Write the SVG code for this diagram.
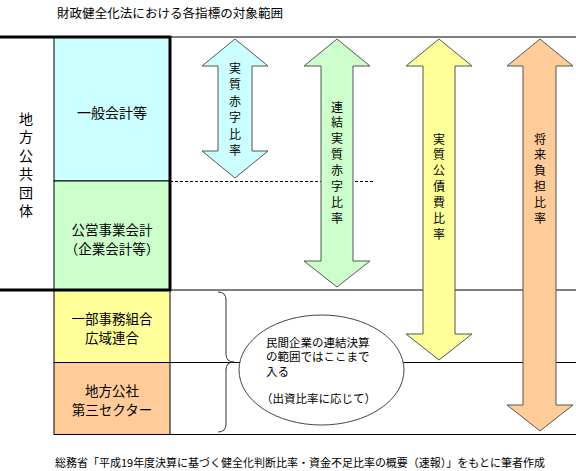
<svg xmlns="http://www.w3.org/2000/svg" width="576" height="471" viewBox="0 0 576 471">
<style>
text{font-family:"Noto Sans CJK JP","Noto Sans CJK SC",sans-serif;fill:#000;dominant-baseline:central}
.box{stroke:#000;stroke-width:1}
.arrow{stroke:#555;stroke-width:1}
.thin{stroke:#000;stroke-width:1;fill:none}
.thick{stroke:#000;stroke-width:3;fill:none}
.v12{font-size:12px;text-anchor:middle}
.b14{font-size:14px;text-anchor:middle}
.b13{font-size:13.5px;text-anchor:middle}
.e12{font-size:11.5px}
</style>
<rect width="576" height="471" fill="#fff"/>
<text x="57" y="12" font-size="12.5" textLength="226" lengthAdjust="spacingAndGlyphs">財政健全化法における各指標の対象範囲</text>

<g id="lines">
<line class="thin" x1="170" y1="37" x2="576" y2="37"/>
<line class="thin" x1="170" y1="290" x2="576" y2="290"/>
<line class="thin" x1="54" y1="362.5" x2="576" y2="362.5"/>
<line class="thin" x1="54" y1="434.5" x2="576" y2="434.5"/>
<line x1="170" y1="181.5" x2="373" y2="181.5" stroke="#000" stroke-width="1" stroke-dasharray="3,2"/>
</g>

<g id="node-general">
<rect class="box" x="54" y="37" width="116" height="144" fill="#ccffff"/>
<text class="b14" x="112" y="112">一般会計等</text>
</g>
<g id="node-public">
<rect class="box" x="54" y="181" width="116" height="109" fill="#ccffcc"/>
<text class="b13" x="112" y="228.5">公営事業会計</text>
<text class="b13" x="112" y="247.5">（企業会計等）</text>
</g>
<g id="node-union">
<rect class="box" x="54" y="290" width="116" height="72.5" fill="#ffff99"/>
<text class="b13" x="112" y="317.5">一部事務組合</text>
<text class="b13" x="112" y="336.5">広域連合</text>
</g>
<g id="node-corp">
<rect class="box" x="54" y="362.5" width="116" height="72" fill="#ffcc99"/>
<text class="b13" x="112" y="389.5">地方公社</text>
<text class="b13" x="112" y="408.5">第三セクター</text>
</g>

<g id="frame">
<line class="thick" x1="0" y1="37" x2="171" y2="37"/>
<line class="thick" x1="0" y1="290" x2="171" y2="290"/>
<line class="thick" x1="170" y1="36" x2="170" y2="291"/>
</g>

<g id="label-local">
<text class="b14" x="26" y="118">地</text>
<text class="b14" x="26" y="136.4">方</text>
<text class="b14" x="26" y="154.8">公</text>
<text class="b14" x="26" y="173.2">共</text>
<text class="b14" x="26" y="191.6">団</text>
<text class="b14" x="26" y="210">体</text>
</g>

<g id="connectors">
<path d="M218,292 Q226,292 226,300 L226,354 Q226,362 234,362 Q226,362 226,370 L226,424 Q226,432 218,432" fill="none" stroke="#333" stroke-width="1"/>
</g>

<g id="node-note">
<ellipse cx="321.5" cy="370" rx="82.5" ry="55" fill="#fff" stroke="#444" stroke-width="1"/>
<text class="e12" x="266" y="341.5">民間企業の連結決算</text>
<text class="e12" x="266" y="356">の範囲ではここまで</text>
<text class="e12" x="266" y="370.5">入る</text>
<text class="e12" x="261" y="398">（出資比率に応じて）</text>
</g>

<g id="arrow-deficit">
<path class="arrow" fill="#ccffff" d="M235,39 L268,66 L252,66 L252,151 L268,151 L235,178 L202,151 L218,151 L218,66 L202,66 Z"/>
<text class="v12" x="235" y="67">実</text>
<text class="v12" x="235" y="83.5">質</text>
<text class="v12" x="235" y="100">赤</text>
<text class="v12" x="235" y="116.5">字</text>
<text class="v12" x="235" y="133">比</text>
<text class="v12" x="235" y="149.5">率</text>
</g>
<g id="arrow-consolidated">
<path class="arrow" fill="#ccffcc" d="M337,39 L370,66 L353,66 L353,261 L370,261 L337,287 L304,261 L321,261 L321,66 L304,66 Z"/>
<text class="v12" x="337" y="106">連</text>
<text class="v12" x="337" y="121.9">結</text>
<text class="v12" x="337" y="137.7">実</text>
<text class="v12" x="337" y="153.6">質</text>
<text class="v12" x="337" y="169.4">赤</text>
<text class="v12" x="337" y="185.3">字</text>
<text class="v12" x="337" y="201.1">比</text>
<text class="v12" x="337" y="217">率</text>
</g>
<g id="arrow-debt">
<path class="arrow" fill="#ffff99" d="M439,39 L472,66 L455,66 L455,334 L472,334 L439,360 L406,334 L423,334 L423,66 L406,66 Z"/>
<text class="v12" x="439" y="138">実</text>
<text class="v12" x="439" y="153.8">質</text>
<text class="v12" x="439" y="169.7">公</text>
<text class="v12" x="439" y="185.5">債</text>
<text class="v12" x="439" y="201.3">費</text>
<text class="v12" x="439" y="217.2">比</text>
<text class="v12" x="439" y="233">率</text>
</g>
<g id="arrow-future">
<path class="arrow" fill="#ffcc99" d="M540,39 L573,66 L556,66 L556,405 L573,405 L540,431 L507,405 L523,405 L523,66 L507,66 Z"/>
<text class="v12" x="540" y="138">将</text>
<text class="v12" x="540" y="153.8">来</text>
<text class="v12" x="540" y="169.6">負</text>
<text class="v12" x="540" y="185.4">担</text>
<text class="v12" x="540" y="201.2">比</text>
<text class="v12" x="540" y="217">率</text>
</g>

<text x="55" y="462" font-size="11" textLength="490" lengthAdjust="spacingAndGlyphs">総務省「平成19年度決算に基づく健全化判断比率・資金不足比率の概要（速報）」をもとに筆者作成</text>
</svg>
